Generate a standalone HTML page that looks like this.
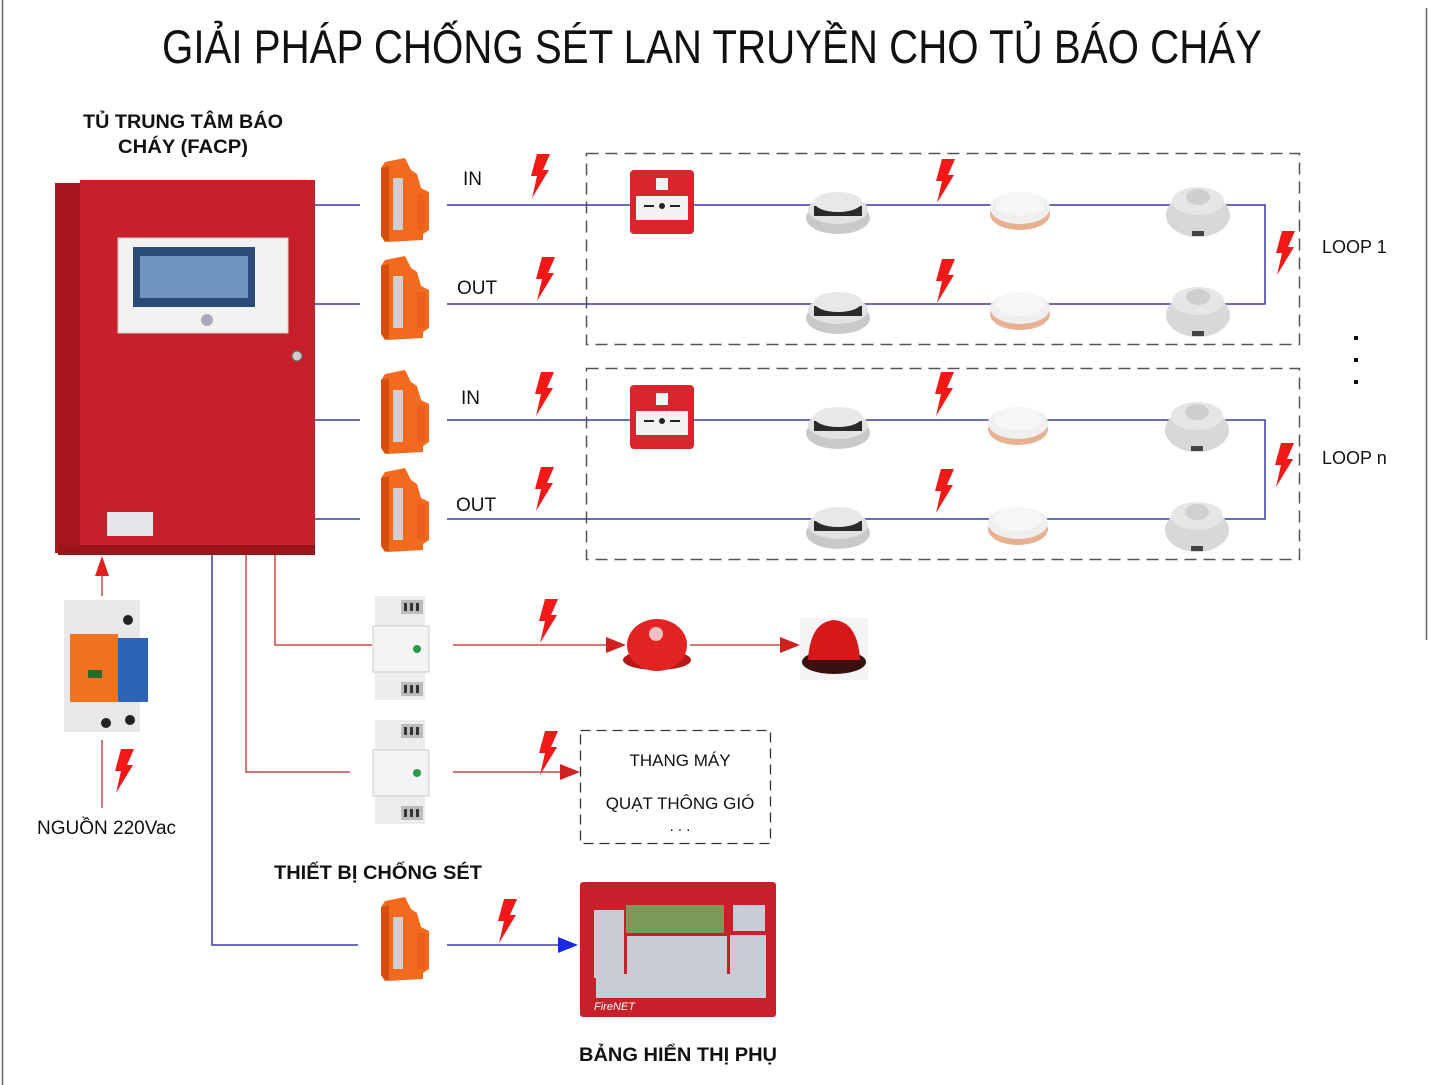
<!DOCTYPE html>
<html><head><meta charset="utf-8"><style>
html,body{margin:0;padding:0;background:#fff;}
svg{display:block;}
text{font-family:"Liberation Sans",Arial,sans-serif;}
</style></head><body>
<svg width="1429" height="1085" viewBox="0 0 1429 1085" xmlns="http://www.w3.org/2000/svg">
<defs>
  <path id="bolt" d="M9,0 L22,0 L15,16 L21,16 L4,44 L9,22 L3,22 Z" fill="#f21818"/>
  <g id="spdo">
    <path d="M4,4 L24,0 L30,12 L36,16 L40,30 L48,34 L48,72 L42,76 L42,82 L6,84 L0,78 L0,10 Z" fill="#f26a1e"/>
    <path d="M0,10 L8,8 L8,82 L4,84 L0,78 Z" fill="#d4500c"/>
    <rect x="12" y="20" width="10" height="52" fill="#cfcfcf"/>
    <rect x="36" y="36" width="8" height="36" fill="#e9601a"/>
  </g>
  <g id="spdw">
    <rect x="2" y="0" width="50" height="104" fill="#ececec"/>
    <rect x="0" y="30" width="56" height="46" fill="#f4f4f4" stroke="#ccc"/>
    <rect x="28" y="4" width="22" height="14" fill="#bbb"/>
    <rect x="28" y="86" width="22" height="14" fill="#bbb"/>
    <rect x="31" y="7" width="3" height="8" fill="#333"/><rect x="37" y="7" width="3" height="8" fill="#333"/><rect x="43" y="7" width="3" height="8" fill="#333"/>
    <rect x="31" y="89" width="3" height="8" fill="#333"/><rect x="37" y="89" width="3" height="8" fill="#333"/><rect x="43" y="89" width="3" height="8" fill="#333"/>
    <circle cx="44" cy="53" r="4" fill="#2a9a4a"/>
  </g>
  <g id="smoke">
    <ellipse cx="0" cy="12" rx="32" ry="16" fill="#c9c9c9"/>
    <ellipse cx="0" cy="4" rx="30" ry="14" fill="#e2e2e2"/>
    <rect x="-24" y="0" width="48" height="10" fill="#2a2a2a"/>
    <ellipse cx="0" cy="-4" rx="24" ry="10" fill="#e8e8e8"/>
  </g>
  <g id="heat">
    <ellipse cx="0" cy="10" rx="30" ry="16" fill="#e8b090"/>
    <ellipse cx="0" cy="4" rx="30" ry="16" fill="#efefef"/>
    <ellipse cx="0" cy="0" rx="24" ry="12" fill="#f6f6f6"/>
  </g>
  <g id="multi">
    <ellipse cx="0" cy="10" rx="32" ry="22" fill="#d8d8d8"/>
    <ellipse cx="0" cy="-4" rx="26" ry="14" fill="#e6e6e6"/>
    <ellipse cx="0" cy="-8" rx="12" ry="8" fill="#cfcfcf"/>
    <rect x="-6" y="26" width="12" height="5" fill="#444"/>
  </g>
  <g id="mcp">
    <rect x="0" y="0" width="64" height="64" rx="4" fill="#d9262c"/>
    <rect x="6" y="26" width="52" height="24" fill="#f2f2f2"/>
    <circle cx="32" cy="36" r="3" fill="#222"/>
    <path d="M14,36 h10 M40,36 h10" stroke="#222" stroke-width="2"/>
    <rect x="26" y="8" width="12" height="12" fill="#f5f5f5"/>
  </g>
</defs>

<!-- borders -->
<line x1="2.5" y1="0" x2="2.5" y2="1085" stroke="#666" stroke-width="1.5"/>
<line x1="1426.5" y1="8" x2="1426.5" y2="640" stroke="#666" stroke-width="1.5"/>

<!-- title -->
<text x="712" y="63" font-size="47" text-anchor="middle" textLength="1100" lengthAdjust="spacingAndGlyphs" fill="#111">GIẢI PHÁP CHỐNG SÉT LAN TRUYỀN CHO TỦ BÁO CHÁY</text>

<text x="183" y="128" font-size="19" font-weight="bold" text-anchor="middle" fill="#111" textLength="200" lengthAdjust="spacingAndGlyphs">TỦ TRUNG TÂM BÁO</text>
<text x="183" y="153" font-size="19" font-weight="bold" text-anchor="middle" fill="#111" textLength="130" lengthAdjust="spacingAndGlyphs">CHÁY (FACP)</text>

<!-- dashed loop boxes -->
<rect x="586.5" y="153.5" width="713" height="191" fill="none" stroke="#555" stroke-width="1.5" stroke-dasharray="12,7"/>
<rect x="586.5" y="368.5" width="713" height="191" fill="none" stroke="#555" stroke-width="1.5" stroke-dasharray="12,7"/>

<!-- blue loop lines -->
<g stroke="#3a3aa8" stroke-width="1.5" fill="none">
  <path d="M315,205 H360 M447,205 H1265 V304 H447 M360,304 H315"/>
  <path d="M315,420 H360 M447,420 H1265 V519 H447 M360,519 H315"/>
  <path d="M212,520 V945 H358 M447,945 H565"/>
</g>
<polygon points="578,945 558,937 558,953" fill="#1a2ae0"/>

<!-- red lines -->
<g stroke="#c84848" stroke-width="1.5" fill="none">
  <path d="M275,520 V645 H372"/>
  <path d="M246,520 V772 H350"/>
  <path d="M453,645 H610 M690,645 H785"/>
  <path d="M453,772 H565"/>
  <path d="M102,560 V596 M102,740 V808"/>
</g>
<polygon points="626,645 606,637 606,653" fill="#d02020"/>
<polygon points="800,645 780,637 780,653" fill="#d02020"/>
<polygon points="580,772 560,764 560,780" fill="#d02020"/>
<polygon points="102,556 95,576 109,576" fill="#e02020"/>

<!-- cabinet -->
<rect x="55" y="183" width="30" height="370" fill="#a8161e"/>
<rect x="80" y="180" width="235" height="374" fill="#c8202a"/>
<rect x="58" y="545" width="257" height="10" fill="#9a141a"/>
<rect x="118" y="238" width="170" height="95" fill="#f0f2f4" stroke="#ccc"/>
<rect x="133" y="247" width="122" height="60" fill="#2b4a78"/>
<rect x="140" y="256" width="108" height="42" fill="#6d95be"/>
<circle cx="207" cy="320" r="6" fill="#aab"/>
<circle cx="297" cy="356" r="5" fill="#ccc" stroke="#666"/>
<rect x="107" y="512" width="46" height="24" fill="#e6e6ea"/>

<!-- SPDs -->
<use href="#spdo" x="381" y="158"/>
<use href="#spdo" x="381" y="256"/>
<use href="#spdo" x="381" y="370"/>
<use href="#spdo" x="381" y="468"/>
<use href="#spdo" x="381" y="897"/>
<use href="#spdw" x="373" y="596"/>
<use href="#spdw" x="373" y="720"/>

<!-- power SPD -->
<rect x="64" y="600" width="76" height="132" fill="#e8e8e8"/>
<rect x="70" y="634" width="48" height="68" fill="#f0731f"/>
<rect x="118" y="638" width="30" height="64" fill="#2e64b8"/>
<rect x="88" y="670" width="14" height="8" fill="#2a6a2a"/>
<circle cx="128" cy="620" r="5" fill="#222"/>
<circle cx="106" cy="723" r="5" fill="#222"/>
<circle cx="130" cy="720" r="5" fill="#222"/>

<!-- labels -->
<g font-size="19" fill="#111">
<text x="463" y="185">IN</text>
<text x="457" y="294">OUT</text>
<text x="461" y="404">IN</text>
<text x="456" y="511">OUT</text>
<text x="1322" y="253" font-size="18">LOOP 1</text>
<text x="1322" y="464" font-size="18">LOOP n</text>
<text x="37" y="834" font-size="19">NGUỒN 220Vac</text>
<text x="680" y="766" font-size="17" text-anchor="middle">THANG MÁY</text>
<text x="680" y="809" font-size="17" text-anchor="middle">QUẠT THÔNG GIÓ</text>
<text x="680" y="831" font-size="15" text-anchor="middle">. . .</text>
</g>
<text x="378" y="879" font-size="19" font-weight="bold" text-anchor="middle" fill="#111" textLength="208" lengthAdjust="spacingAndGlyphs">THIẾT BỊ CHỐNG SÉT</text>
<text x="678" y="1061" font-size="19" font-weight="bold" text-anchor="middle" fill="#111" textLength="198" lengthAdjust="spacingAndGlyphs">BẢNG HIỂN THỊ PHỤ</text>
<rect x="1354" y="336" width="4" height="4" fill="#111"/>
<rect x="1354" y="358" width="4" height="4" fill="#111"/>
<rect x="1354" y="380" width="4" height="4" fill="#111"/>

<!-- dashed device box -->
<rect x="580.5" y="730.5" width="190" height="113" fill="none" stroke="#333" stroke-width="1.3" stroke-dasharray="10,6"/>

<!-- loop devices -->
<use href="#mcp" x="630" y="170"/>
<use href="#mcp" x="630" y="385"/>
<use href="#smoke" x="838" y="206"/>
<use href="#smoke" x="838" y="306"/>
<use href="#smoke" x="838" y="421"/>
<use href="#smoke" x="838" y="521"/>
<use href="#heat" x="1020" y="204"/>
<use href="#heat" x="1020" y="304"/>
<use href="#heat" x="1018" y="419"/>
<use href="#heat" x="1018" y="519"/>
<use href="#multi" x="1198" y="205"/>
<use href="#multi" x="1198" y="305"/>
<use href="#multi" x="1197" y="420"/>
<use href="#multi" x="1197" y="520"/>

<!-- bell & strobe -->
<ellipse cx="657" cy="660" rx="34" ry="10" fill="#b81818"/>
<ellipse cx="657" cy="645" rx="30" ry="26" fill="#e32222"/>
<circle cx="656" cy="634" r="7" fill="#f2c0c0"/>
<rect x="800" y="618" width="68" height="62" fill="#f4f4f4"/>
<ellipse cx="834" cy="662" rx="32" ry="12" fill="#3a1010"/>
<path d="M808,660 Q810,622 834,620 Q858,622 860,660 Z" fill="#d61818"/>

<!-- annunciator -->
<rect x="580" y="882" width="196" height="135" rx="3" fill="#c8202a"/>
<rect x="626" y="905" width="98" height="28" fill="#7a9a5a"/>
<rect x="594" y="910" width="30" height="68" fill="#c9ccd6"/>
<rect x="627" y="936" width="100" height="38" fill="#c9ccd6"/>
<rect x="730" y="935" width="36" height="40" fill="#c9ccd6"/>
<rect x="733" y="905" width="32" height="26" fill="#c9ccd6"/>
<rect x="596" y="974" width="170" height="24" fill="#c9ccd6"/>
<text x="594" y="1010" font-size="11" font-style="italic" fill="#fff">FireNET</text>

<!-- bolts -->
<use href="#bolt" x="528" y="154"/>
<use href="#bolt" x="533" y="257"/>
<use href="#bolt" x="933" y="159"/>
<use href="#bolt" x="933" y="259"/>
<use href="#bolt" x="1273" y="231"/>
<use href="#bolt" x="532" y="372"/>
<use href="#bolt" x="932" y="372"/>
<use href="#bolt" x="532" y="467"/>
<use href="#bolt" x="932" y="469"/>
<use href="#bolt" x="1272" y="443"/>
<use href="#bolt" x="536" y="599"/>
<use href="#bolt" x="536" y="731"/>
<use href="#bolt" x="495" y="899"/>
<use href="#bolt" x="112" y="749"/>
</svg>
</body></html>
